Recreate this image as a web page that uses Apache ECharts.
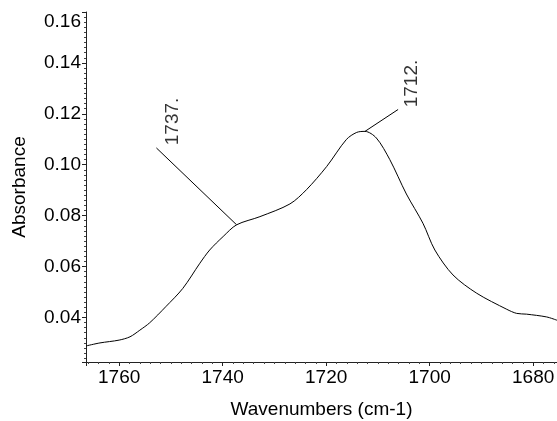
<!DOCTYPE html>
<html>
<head>
<meta charset="utf-8">
<script src="https://cdn.jsdelivr.net/npm/echarts@6/dist/echarts.min.js"></script>
<style>
  html, body { margin: 0; padding: 0; background: #fff; }
  #chart { width: 557px; height: 421px; }
</style>
</head>
<body>
<div id="chart"></div>
<script>
// spectrum
var wavenumbers = [1766.4, 1763.7, 1760.0, 1757.9, 1756.0, 1754.1, 1751.0, 1747.7, 1744.4, 1742.5,
                   1739.9, 1737.3, 1732.8, 1727.0, 1723.8, 1719.9, 1716.1, 1714.1, 1712.5, 1710.3,
                   1707.7, 1704.5, 1701.3, 1699.0, 1695.5, 1690.9, 1685.1, 1683.2, 1681.3, 1677.4, 1675.4]
var absorbance = [0.0288, 0.0300, 0.0311, 0.0324, 0.0350, 0.0379, 0.0442, 0.0514, 0.0613, 0.0665,
                  0.0718, 0.0764, 0.0796, 0.0846, 0.0902, 0.0993, 0.1099, 0.1127, 0.1131, 0.1105,
                  0.1020, 0.0885, 0.0770, 0.0665, 0.0567, 0.0495, 0.0432, 0.0416, 0.0413, 0.0402, 0.0389]

// peak labels: peak position, leader line end, label centre
var peakNames = ['1737.', '1712.']
var peakAt = [[1737.3, 0.0764], [1712.5, 0.1131]]
var leaderEnd = [[1752.8, 0.1066], [1706.1, 0.1217]]
var labelAt = [[1749.6, 0.1170], [1703.5, 0.1319]]

var xMin = 1675.4, xMax = 1766.4
var yMin = 0.0225, yMax = 0.16

var font = "'Liberation Sans', Arial, Helvetica, sans-serif"

var myChart = echarts.init(document.getElementById('chart'), null, {renderer: 'canvas'})

var lineData = []
for (var i = 0; i < wavenumbers.length; i++) {
    lineData.push([wavenumbers[i], absorbance[i]])
}
var leaders = []
var labels = []
for (var k = 0; k < peakNames.length; k++) {
    leaders.push([{coord: peakAt[k]}, {coord: leaderEnd[k]}])
    labels.push({value: labelAt[k], name: peakNames[k]})
}

var option = {
    animation: false,
    backgroundColor: '#fff',
    // v6 shrinks the grid to fit names/labels unless told not to
    grid: {left: 86, right: 0, top: 12, bottom: 59, containLabel: false, outerBoundsMode: 'none'},
    xAxis: {
        type: 'value',
        inverse: true,
        min: xMin,
        max: xMax,
        minInterval: 20,
        maxInterval: 20,
        name: 'Wavenumbers (cm-1)',
        nameLocation: 'middle',
        nameGap: 38,
        nameTextStyle: {color: '#000', fontFamily: font, fontSize: 19},
        axisLine: {lineStyle: {color: '#222', width: 1}},
        axisTick: {length: 4, lineStyle: {color: '#222'}},
        minorTick: {show: true, splitNumber: 10, length: 2, lineStyle: {color: '#444'}},
        splitLine: {show: false},
        axisLabel: {
            color: '#000', fontFamily: font, fontSize: 19, margin: 6,
            formatter: function (v) {
                return Math.abs(v / 20 - Math.round(v / 20)) < 1e-6 ? String(v) : ''
            }
        }
    },
    yAxis: {
        type: 'value',
        min: yMin,
        max: yMax,
        minInterval: 0.02,
        maxInterval: 0.02,
        name: 'Absorbance',
        nameLocation: 'middle',
        nameGap: 57,
        nameTextStyle: {color: '#000', fontFamily: font, fontSize: 19},
        axisLine: {show: true, lineStyle: {color: '#222', width: 1}},
        axisTick: {show: true, length: 4, lineStyle: {color: '#222'}},
        minorTick: {show: true, splitNumber: 10, length: 2, lineStyle: {color: '#444'}},
        splitLine: {show: false},
        axisLabel: {
            color: '#000', fontFamily: font, fontSize: 19, margin: 5,
            verticalAlignMaxLabel: 'top',
            formatter: function (v) {
                var r = v / 0.02
                return Math.abs(r - Math.round(r)) < 1e-6 ? v.toFixed(2) : ''
            }
        }
    },
    series: [
        {
            name: 'spectrum',
            type: 'line',
            data: lineData,
            showSymbol: false,
            smooth: 0.3,
            lineStyle: {color: '#000', width: 1},
            markLine: {
                silent: true,
                symbol: ['none', 'none'],
                label: {show: false},
                lineStyle: {color: '#000', width: 1, type: 'solid'},
                data: leaders
            }
        },
        {
            name: 'peaks',
            type: 'scatter',
            symbolSize: 0,
            data: labels,
            label: {
                show: true,
                position: 'inside',
                rotate: 90,
                formatter: '{b}',
                color: '#000',
                fontFamily: font,
                fontSize: 19
            }
        }
    ]
}

myChart.setOption(option)
</script>
</body>
</html>
